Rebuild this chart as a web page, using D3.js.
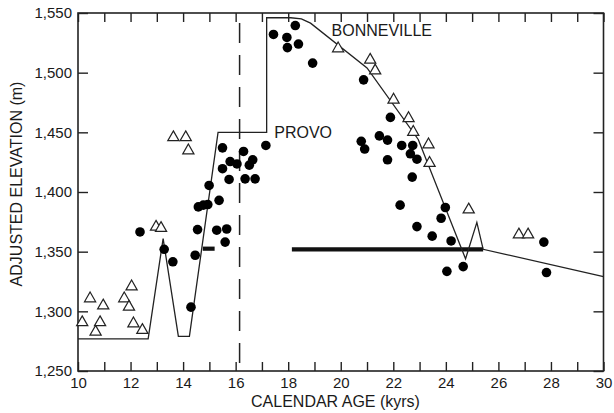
<!DOCTYPE html>
<html>
<head>
<meta charset="utf-8">
<script src="https://cdn.jsdelivr.net/npm/d3@7"></script>
<style>
  html, body { margin: 0; padding: 0; background: #fff; }
  svg { display: block; font-family: "Liberation Sans", Arial, Helvetica, sans-serif; }
</style>
</head>
<body>
<svg id="chart" width="614" height="413"></svg>
<script>
// ---- data ----
const xTicks = [10, 12, 14, 16, 18, 20, 22, 24, 26, 28, 30];
const yTicks = [1250, 1300, 1350, 1400, 1450, 1500, 1550];

const triAge  = [10.16, 10.46, 10.84, 10.67, 10.96, 12.04, 11.76, 11.94, 12.11, 12.45, 12.97, 13.16,
                 13.63, 14.10, 14.20, 19.90, 21.12, 21.31, 22.01, 22.58, 22.76, 23.34, 23.38, 24.87,
                 26.78, 27.13];
const triElev = [1291, 1311, 1291, 1283, 1305, 1321, 1311, 1304, 1290, 1284.5, 1371, 1370,
                 1446, 1446, 1435, 1520.5, 1511, 1502, 1477.5, 1462, 1450.5, 1440, 1424.5, 1385.5,
                 1364.5, 1364.5];

const circAge  = [12.36, 13.28, 13.61, 14.30, 14.55, 14.46, 14.58, 14.77, 14.94, 14.99, 15.37, 15.50,
                  15.79, 16.05, 16.30, 16.52, 16.65, 16.36, 16.74, 15.75, 15.50, 17.15, 15.28, 15.66,
                  15.60, 17.44, 17.95, 17.97, 18.27, 18.39, 18.93, 20.87, 21.89, 20.78, 20.91, 21.47,
                  21.78, 21.78, 22.32, 22.74, 22.65, 22.90, 22.72, 22.26, 23.98, 23.82, 22.90, 23.48,
                  24.20, 24.66, 24.04, 27.73, 27.83];
const circElev = [1366.5, 1352, 1341.5, 1303.5, 1368.5, 1347, 1387.5, 1389, 1389.5, 1405.5, 1393, 1437,
                  1425.5, 1423.5, 1434, 1422.5, 1427, 1411, 1411, 1410.5, 1419.5, 1439, 1368, 1369,
                  1358, 1532, 1529.5, 1521, 1539.5, 1524, 1508, 1494, 1462.5, 1442.5, 1436, 1447,
                  1443.5, 1427, 1439, 1439, 1432, 1427.5, 1412.5, 1389, 1387, 1378, 1371, 1363,
                  1359, 1337.5, 1333.5, 1358, 1332.5];

const hydroAge  = [10, 12.67, 13.24, 13.82, 14.24, 15.33, 17.18, 17.18, 18.1, 18.5, 18.85, 21.0,
                   22.95, 24.75, 25.18, 25.42, 30];
const hydroElev = [1277, 1277, 1361, 1279, 1279, 1450, 1450, 1546, 1546, 1545, 1541.5, 1504,
                   1444, 1344, 1374.5, 1352, 1329];

const barStart = [14.75, 18.14];
const barEnd   = [15.2, 25.42];
const barElev  = [1352.5, 1352];

const dashedAge = 16.15;
const labelText = ["BONNEVILLE", "PROVO"];
const labelAge  = [19.65, 17.47];
const labelElev = [1530.5, 1445.5];

// ---- layout ----
const W = 614, H = 413;
const m = { left: 78, right: 10.5, top: 13, bottom: 42 };
const svg = d3.select("#chart");
const x = d3.scaleLinear().domain([10, 30]).range([m.left, W - m.right]);
const y = d3.scaleLinear().domain([1250, 1550]).range([H - m.bottom, m.top]);
const fmt = d3.format(",");

// axes
const minorX = d3.range(10, 31, 1);
const gB = svg.append("g").attr("transform", `translate(0,${H - m.bottom})`)
  .call(d3.axisBottom(x).tickValues(minorX).tickSize(-9).tickPadding(6)
        .tickFormat(d => xTicks.includes(d) ? d : ""));
const gT = svg.append("g").attr("transform", `translate(0,${m.top})`)
  .call(d3.axisTop(x).tickValues(minorX).tickSize(-9).tickFormat(""));
const gL = svg.append("g").attr("transform", `translate(${m.left},0)`)
  .call(d3.axisLeft(y).tickValues(yTicks).tickSize(-10).tickPadding(6).tickFormat(fmt));
const gR = svg.append("g").attr("transform", `translate(${W - m.right},0)`)
  .call(d3.axisRight(y).tickValues(yTicks).tickSize(-10).tickFormat(""));
[gB, gT, gL, gR].forEach(g => {
  g.select(".domain").remove();
  g.selectAll(".tick line").attr("stroke", "#222").attr("stroke-width", 1.4);
  g.selectAll("text").attr("fill", "#1a1a1a").style("font-size", "15px")
    .style("font-family", "'Liberation Sans', Arial, sans-serif");
});

// frame
svg.append("rect")
  .attr("x", x(10)).attr("y", y(1550))
  .attr("width", x(30) - x(10)).attr("height", y(1250) - y(1550))
  .attr("fill", "none").attr("stroke", "#222").attr("stroke-width", 1.6);

// axis titles
svg.append("text")
  .attr("x", 335.5).attr("y", 407)
  .attr("text-anchor", "middle").attr("fill", "#1a1a1a")
  .style("font-size", "16px").text("CALENDAR AGE (kyrs)");
svg.append("text")
  .attr("transform", `translate(22,184) rotate(-90)`)
  .attr("text-anchor", "middle").attr("fill", "#1a1a1a")
  .style("font-size", "16px").text("ADJUSTED ELEVATION (m)");

// dashed vertical line
svg.append("line")
  .attr("x1", x(dashedAge)).attr("x2", x(dashedAge))
  .attr("y1", y(1550) + 10).attr("y2", y(1250))
  .attr("stroke", "#222").attr("stroke-width", 1.5)
  .attr("stroke-dasharray", "20,12");

// thick bars
svg.append("g").selectAll("line").data(barStart).join("line")
  .attr("x1", (d) => x(d)).attr("x2", (d, i) => x(barEnd[i]))
  .attr("y1", (d, i) => y(barElev[i])).attr("y2", (d, i) => y(barElev[i]))
  .attr("stroke", "#111").attr("stroke-width", 4.2);

// hydrograph
const hydro = hydroAge.map((a, i) => [a, hydroElev[i]]);
svg.append("path")
  .datum(hydro)
  .attr("d", d3.line().x(d => x(d[0])).y(d => y(d[1])))
  .attr("fill", "none").attr("stroke", "#222").attr("stroke-width", 1.3)
  .attr("stroke-linejoin", "miter");

// circles
svg.append("g").selectAll("circle").data(circAge).join("circle")
  .attr("cx", d => x(d)).attr("cy", (d, i) => y(circElev[i]))
  .attr("r", 4.8).attr("fill", "#000");

// triangles
const tri = "M0,-6.2L5.6,3.6L-5.6,3.6Z";
svg.append("g").selectAll("path").data(triAge).join("path")
  .attr("transform", (d, i) => `translate(${x(d)},${y(triElev[i])})`)
  .attr("d", tri).attr("fill", "#fff").attr("stroke", "#222").attr("stroke-width", 1.2);

// labels
svg.append("g").selectAll("text").data(labelText).join("text")
  .attr("x", (d, i) => x(labelAge[i])).attr("y", (d, i) => y(labelElev[i]))
  .attr("fill", "#1a1a1a").style("font-size", "16px").text(d => d);
</script>
</body>
</html>
